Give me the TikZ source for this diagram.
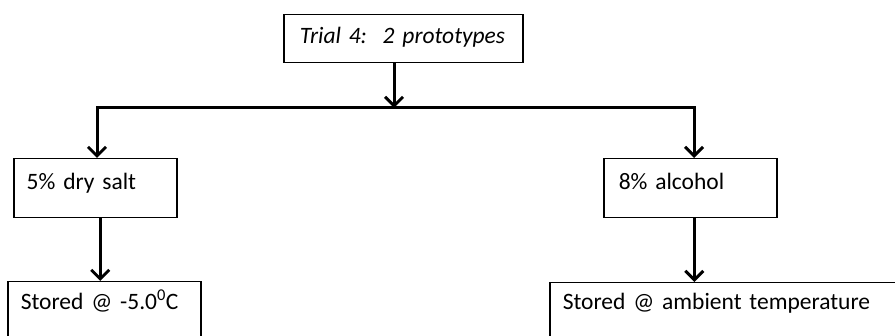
\documentclass[tikz,border=0pt]{standalone}
\usepackage{fontspec}
\setmainfont{Carlito}
\usetikzlibrary{arrows.meta}

\begin{document}
\begin{tikzpicture}[x=1pt, y=-1pt,
  stage/.style={draw, line width=1.5pt, anchor=north west, align=left,
    inner xsep=13pt, inner ysep=0pt, font=\fontsize{23.5}{28}\selectfont},
  barb/.tip={Straight Barb[length=9pt,width=18pt]},
  flow/.style={line width=3pt, -barb}]

  % Fix the page to the size of the picture
  \useasboundingbox (0,0) rectangle (895,336);
  \clip (0,0) rectangle (895,336);

  % The trial box at the top
  \node[stage, inner xsep=16pt, text width=207pt, text height=29pt, text depth=19pt]
    (trial) at (283,14) {\itshape Trial 4:\ \ 2 prototypes};

  % The two treatments
  \node[stage, text width=137pt, text height=31pt, text depth=28pt]
    (salt) at (13,158) {5\% dry salt};
  \node[stage, inner xsep=15pt, text width=143pt, text height=31pt, text depth=28pt]
    (alcohol) at (603,158) {8\% alcohol};

  % The storage boxes, cut off by the lower edge
  \node[stage, text width=167pt, text height=28pt, text depth=80pt]
    (cold) at (7,281) {Stored @ -5.0\textsuperscript{0}C};
  \node[stage, text width=374pt, text height=27pt, text depth=80pt]
    (ambient) at (549,282) {Stored @ ambient temperature};

  % Where the line splits into two branches
  \coordinate (split) at (394,108);
  \coordinate (lb) at (97,108);
  \coordinate (rb) at (694,108);

  % Arrows
  \draw[flow] (trial.south -| split) -- (split);
  \draw[flow, barb-barb] (salt.north -| lb) |- (split) -| (alcohol.north -| rb);
  \draw[flow] ([xshift=5pt]salt.south) -- ([xshift=5pt]salt.south |- cold.north);
  \draw[flow] ([xshift=4pt]alcohol.south) -- ([xshift=4pt]alcohol.south |- ambient.north);

\end{tikzpicture}
\end{document}
